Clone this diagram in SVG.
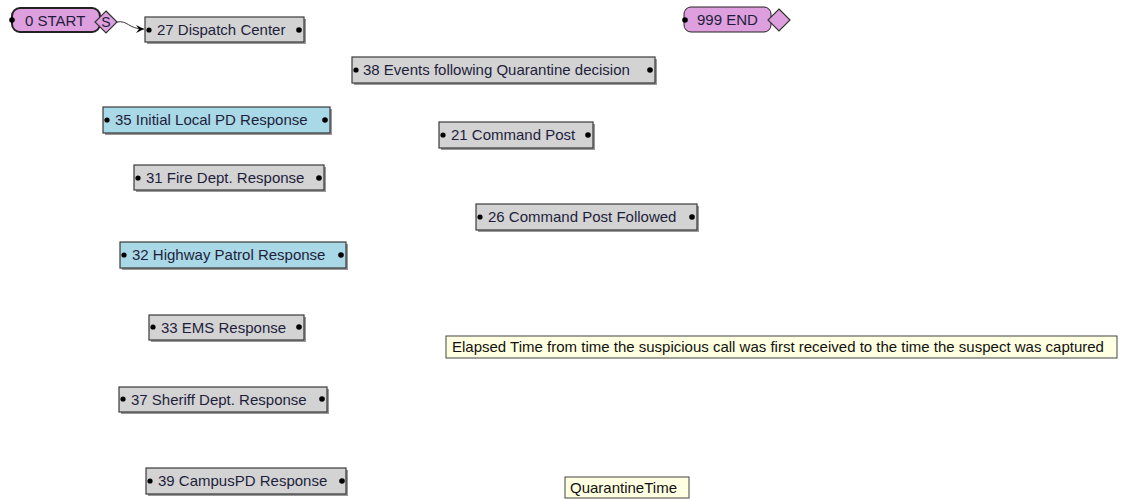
<svg xmlns="http://www.w3.org/2000/svg" width="1141" height="499" viewBox="0 0 1141 499">
<defs>
<style>
.t{font-family:"Liberation Sans",Arial,sans-serif;font-size:15px;fill:#1e1e3c}
.box{fill:#d3d3d3;stroke:#3a3a3a;stroke-width:1.2}
.blue{fill:#a9d8e6;stroke:#3a3a3a;stroke-width:1.2}
.pill{fill:#dd9fdd;stroke:#222;stroke-width:2}
.dia{fill:#dd9fdd;stroke:#333;stroke-width:1.2}
.sh{fill:#9a9a9a}
.note{fill:#ffffe1;stroke:#444;stroke-width:1}
.dot{fill:#000}
.conn{fill:none;stroke:#333;stroke-width:1}
</style>
<marker id="arr" markerWidth="10" markerHeight="10" refX="8" refY="5" orient="auto" markerUnits="userSpaceOnUse">
<path d="M0,1 L8,5 L0,9 L3,5 Z" fill="#000"/>
</marker>
</defs>
<rect width="1141" height="499" fill="#fff"/>

<g id="connectors">
<path class="conn" d="M117,22 C128,20 128,29 144,29" marker-end="url(#arr)"/>
</g>

<g id="n0">
<rect x="12" y="8" width="88" height="24" rx="8" class="pill"/>
<path d="M106,11 L117,22 L106,33 L95,22 Z" class="dia"/>
<text x="106" y="27" class="t" style="font-size:14px" text-anchor="middle">S</text>
<circle cx="12" cy="20" r="2.8" class="dot"/>
<text x="25" y="26" class="t">0 START</text>
</g>

<g id="n999">
<rect x="684" y="7" width="87" height="25" rx="7" class="pill" style="stroke-width:1"/>
<path d="M779,9 L790,20 L779,31 L768,20 Z" class="dia"/>
<circle cx="685" cy="20" r="2.8" class="dot"/>
<text x="697" y="25" class="t">999 END</text>
</g>

<g id="n27">
<rect x="147" y="19" width="159" height="25" class="sh"/>
<rect x="145" y="17" width="159" height="25" class="box"/>
<circle cx="149" cy="30" r="2.6" class="dot"/>
<circle cx="299" cy="30" r="2.8" class="dot"/>
<text x="157" y="35" class="t">27 Dispatch Center</text>
</g>

<g id="n38">
<rect x="354" y="59" width="303" height="26" class="sh"/>
<rect x="352" y="57" width="303" height="26" class="box"/>
<circle cx="356" cy="70" r="2.6" class="dot"/>
<circle cx="650" cy="70" r="2.8" class="dot"/>
<text x="363" y="75" class="t">38 Events following Quarantine decision</text>
</g>

<g id="n35">
<rect x="105" y="109" width="227" height="26" class="sh"/>
<rect x="103" y="107" width="227" height="26" class="blue"/>
<circle cx="107" cy="120" r="2.6" class="dot"/>
<circle cx="325" cy="120" r="2.8" class="dot"/>
<text x="115" y="125" class="t">35 Initial Local PD Response</text>
</g>

<g id="n21">
<rect x="441" y="124" width="154" height="26" class="sh"/>
<rect x="439" y="122" width="154" height="26" class="box"/>
<circle cx="443" cy="135" r="2.6" class="dot"/>
<circle cx="588" cy="135" r="2.8" class="dot"/>
<text x="451" y="140" class="t">21 Command Post</text>
</g>

<g id="n31">
<rect x="136" y="167" width="190" height="25" class="sh"/>
<rect x="134" y="165" width="190" height="25" class="box"/>
<circle cx="138" cy="178" r="2.6" class="dot"/>
<circle cx="319" cy="178" r="2.8" class="dot"/>
<text x="146" y="183" class="t">31 Fire Dept. Response</text>
</g>

<g id="n26">
<rect x="478" y="206" width="221" height="26" class="sh"/>
<rect x="476" y="204" width="221" height="26" class="box"/>
<circle cx="480" cy="217" r="2.6" class="dot"/>
<circle cx="692" cy="217" r="2.8" class="dot"/>
<text x="488" y="222" class="t">26 Command Post Followed</text>
</g>

<g id="n32">
<rect x="122" y="244" width="226" height="26" class="sh"/>
<rect x="120" y="242" width="226" height="26" class="blue"/>
<circle cx="124" cy="255" r="2.6" class="dot"/>
<circle cx="341" cy="255" r="2.8" class="dot"/>
<text x="132" y="260" class="t">32 Highway Patrol Response</text>
</g>

<g id="n33">
<rect x="151" y="317" width="155" height="25" class="sh"/>
<rect x="149" y="315" width="155" height="25" class="box"/>
<circle cx="153" cy="327" r="2.6" class="dot"/>
<circle cx="299" cy="327" r="2.8" class="dot"/>
<text x="161" y="333" class="t">33 EMS Response</text>
</g>

<g id="note1">
<rect x="446" y="336" width="671" height="22" class="note"/>
<text x="452" y="352" class="t" style="fill:#111">Elapsed Time from time the suspicious call was first received to the time the suspect was captured</text>
</g>

<g id="n37">
<rect x="121" y="389" width="208" height="25" class="sh"/>
<rect x="119" y="387" width="208" height="25" class="box"/>
<circle cx="123" cy="399" r="2.6" class="dot"/>
<circle cx="322" cy="399" r="2.8" class="dot"/>
<text x="131" y="405" class="t">37 Sheriff Dept. Response</text>
</g>

<g id="n39">
<rect x="148" y="470" width="200" height="26" class="sh"/>
<rect x="146" y="468" width="200" height="26" class="box"/>
<circle cx="150" cy="481" r="2.6" class="dot"/>
<circle cx="342" cy="481" r="2.8" class="dot"/>
<text x="158" y="486" class="t">39 CampusPD Response</text>
</g>

<g id="note2">
<rect x="565" y="477" width="124" height="21" class="note"/>
<text x="570" y="493" class="t" style="fill:#111">QuarantineTime</text>
</g>
</svg>
